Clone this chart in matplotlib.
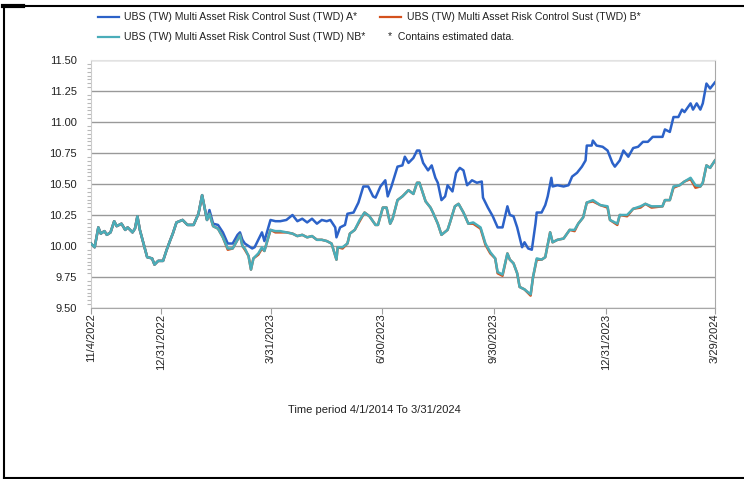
import matplotlib
matplotlib.use('Agg')
import matplotlib.pyplot as plt
from matplotlib.lines import Line2D
from matplotlib.ticker import MultipleLocator, FixedLocator
import pandas as pd

# days counted from 2022-11-04, NAV
start = pd.Timestamp('2022-11-04')

days_a = [0, 3, 6, 8, 11, 13, 16, 19, 21, 25,
          28, 30, 34, 36, 38, 40, 43, 46, 50, 52,
          55, 59, 62, 65, 67, 70, 75, 79, 84, 88,
          91, 93, 95, 97, 100, 104, 108, 112, 116, 120,
          122, 124, 126, 129, 132, 134, 137, 140, 142, 147,
          151, 155, 160, 165, 169, 173, 177, 181, 185, 189,
          193, 196, 200, 201, 204, 208, 210, 215, 219, 223,
          227, 231, 233, 237, 241, 243, 246, 251, 255, 257,
          260, 264, 267, 269, 272, 276, 279, 282, 284, 287,
          290, 292, 296, 299, 302, 305, 308, 312, 316, 320,
          321, 325, 329, 333, 337, 341, 343, 346, 349, 353,
          355, 358, 361, 364, 365, 369, 372, 374, 377, 378,
          382, 387, 391, 394, 398, 402, 405, 406, 410, 411,
          414, 419, 423, 427, 429, 433, 436, 440, 444, 448,
          452, 456, 460, 468, 470, 474, 477, 481, 484, 486,
          491, 493, 496, 499, 501, 504, 507, 511]
nav_a = [10.02, 9.99, 10.15, 10.10, 10.12, 10.09, 10.11, 10.20, 10.16, 10.18,
         10.13, 10.15, 10.11, 10.14, 10.24, 10.13, 10.02, 9.91, 9.90, 9.85,
         9.88, 9.88, 9.97, 10.05, 10.10, 10.19, 10.21, 10.17, 10.17, 10.26,
         10.41, 10.31, 10.21, 10.29, 10.18, 10.17, 10.11, 10.02, 10.02, 10.09,
         10.11, 10.05, 10.02, 10.00, 9.98, 9.99, 10.05, 10.11, 10.04, 10.21,
         10.20, 10.20, 10.21, 10.25, 10.20, 10.22, 10.19, 10.22, 10.18, 10.21,
         10.20, 10.21, 10.15, 10.07, 10.15, 10.17, 10.26, 10.27, 10.35, 10.48,
         10.48, 10.40, 10.39, 10.48, 10.53, 10.40, 10.48, 10.64, 10.65, 10.72,
         10.67, 10.71, 10.77, 10.77, 10.67, 10.61, 10.65, 10.55, 10.51, 10.37,
         10.40, 10.49, 10.44, 10.59, 10.63, 10.61, 10.49, 10.53, 10.51, 10.52,
         10.39, 10.31, 10.24, 10.15, 10.15, 10.32, 10.25, 10.24, 10.15, 9.99,
         10.03, 9.98, 9.97, 10.18, 10.27, 10.27, 10.33, 10.40, 10.55, 10.48,
         10.49, 10.48, 10.49, 10.56, 10.59, 10.64, 10.69, 10.81, 10.81, 10.85,
         10.81, 10.80, 10.77, 10.67, 10.64, 10.69, 10.77, 10.72, 10.79, 10.80,
         10.84, 10.84, 10.88, 10.88, 10.94, 10.92, 11.04, 11.04, 11.10, 11.08,
         11.15, 11.10, 11.15, 11.10, 11.15, 11.31, 11.27, 11.32]

days_nb = [0, 3, 6, 8, 11, 13, 16, 19, 21, 25,
           28, 30, 34, 36, 38, 40, 43, 46, 50, 52,
           55, 59, 62, 65, 67, 70, 75, 79, 84, 88,
           91, 93, 95, 97, 100, 104, 108, 112, 116, 120,
           122, 124, 126, 129, 131, 133, 137, 140, 142, 147,
           151, 155, 160, 165, 169, 173, 177, 181, 185, 189,
           193, 197, 201, 202, 206, 210, 212, 216, 220, 224,
           228, 233, 235, 239, 242, 245, 247, 251, 255, 260,
           264, 267, 269, 274, 278, 280, 284, 287, 292, 294,
           298, 301, 305, 309, 313, 319, 323, 327, 331, 333,
           337, 341, 343, 346, 349, 351, 355, 360, 362, 365,
           369, 372, 376, 378, 382, 387, 392, 396, 399, 403,
           406, 411, 417, 423, 425, 431, 433, 439, 444, 450,
           454, 459, 468, 470, 474, 477, 482, 486, 491, 495,
           499, 501, 504, 507, 511]
nav_nb = [10.02, 9.99, 10.15, 10.10, 10.12, 10.09, 10.11, 10.20, 10.16, 10.18,
          10.13, 10.15, 10.11, 10.14, 10.24, 10.13, 10.02, 9.91, 9.90, 9.85,
          9.88, 9.88, 9.97, 10.05, 10.10, 10.19, 10.21, 10.17, 10.17, 10.26,
          10.41, 10.31, 10.21, 10.26, 10.16, 10.14, 10.07, 9.98, 9.98, 10.05,
          10.09, 10.00, 9.98, 9.92, 9.81, 9.90, 9.94, 9.99, 9.96, 10.13,
          10.12, 10.12, 10.11, 10.10, 10.08, 10.09, 10.07, 10.08, 10.05, 10.05,
          10.04, 10.02, 9.89, 9.99, 9.99, 10.02, 10.10, 10.13, 10.21, 10.27,
          10.24, 10.17, 10.17, 10.31, 10.31, 10.18, 10.22, 10.37, 10.40, 10.45,
          10.42, 10.51, 10.51, 10.36, 10.31, 10.27, 10.18, 10.09, 10.13, 10.19,
          10.32, 10.34, 10.27, 10.18, 10.19, 10.15, 10.02, 9.95, 9.90, 9.79,
          9.77, 9.94, 9.89, 9.86, 9.78, 9.67, 9.65, 9.61, 9.75, 9.90,
          9.89, 9.91, 10.11, 10.03, 10.05, 10.06, 10.13, 10.13, 10.18, 10.23,
          10.35, 10.37, 10.33, 10.32, 10.21, 10.18, 10.25, 10.25, 10.30, 10.32,
          10.34, 10.32, 10.32, 10.37, 10.37, 10.48, 10.49, 10.52, 10.55, 10.49,
          10.48, 10.51, 10.65, 10.63, 10.69]
# B* share class sits almost exactly under NB*, a touch lower in places
nav_b = [10.02, 9.99, 10.15, 10.10, 10.12, 10.09, 10.11, 10.20, 10.16, 10.18,
         10.13, 10.15, 10.11, 10.14, 10.24, 10.13, 10.02, 9.91, 9.90, 9.85,
         9.88, 9.88, 9.97, 10.05, 10.10, 10.19, 10.21, 10.17, 10.17, 10.26,
         10.41, 10.31, 10.21, 10.26, 10.16, 10.14, 10.07, 9.97, 9.98, 10.05,
         10.09, 10.00, 9.97, 9.92, 9.81, 9.90, 9.93, 9.98, 9.96, 10.13,
         10.11, 10.11, 10.11, 10.10, 10.08, 10.09, 10.07, 10.08, 10.05, 10.05,
         10.04, 10.02, 9.89, 9.99, 9.98, 10.02, 10.10, 10.13, 10.20, 10.27,
         10.24, 10.17, 10.17, 10.31, 10.31, 10.18, 10.22, 10.37, 10.40, 10.45,
         10.42, 10.51, 10.51, 10.36, 10.31, 10.27, 10.18, 10.09, 10.13, 10.19,
         10.32, 10.34, 10.27, 10.18, 10.18, 10.14, 10.01, 9.94, 9.90, 9.78,
         9.76, 9.94, 9.89, 9.86, 9.78, 9.67, 9.65, 9.60, 9.75, 9.89,
         9.89, 9.91, 10.11, 10.03, 10.05, 10.06, 10.13, 10.12, 10.18, 10.23,
         10.35, 10.36, 10.33, 10.31, 10.21, 10.17, 10.25, 10.24, 10.30, 10.31,
         10.34, 10.31, 10.32, 10.37, 10.37, 10.47, 10.49, 10.52, 10.54, 10.47,
         10.48, 10.51, 10.65, 10.63, 10.69]

tick_dates = ['2022-11-04', '2022-12-31', '2023-03-31', '2023-06-30',
              '2023-09-30', '2023-12-31', '2024-03-29']
tick_labels = ['11/4/2022', '12/31/2022', '3/31/2023', '6/30/2023',
               '9/30/2023', '12/31/2023', '3/29/2024']

names = ['UBS (TW) Multi Asset Risk Control Sust (TWD) A*',
         'UBS (TW) Multi Asset Risk Control Sust (TWD) B*',
         'UBS (TW) Multi Asset Risk Control Sust (TWD) NB*']
colors = ['#2c62c8', '#d4511d', '#4aadb9']

dates_a = start + pd.to_timedelta(days_a, unit='D')
dates_nb = start + pd.to_timedelta(days_nb, unit='D')

plt.rcParams['font.family'] = ['Liberation Sans', 'DejaVu Sans']

fig = plt.figure(figsize=(7.44, 4.79), dpi=100)
ax = fig.add_axes([91 / 744, 1 - 308 / 479, 624 / 744, 248 / 479])

ax.plot(dates_a, nav_a, color=colors[0], lw=1.8, zorder=3)
ax.plot(dates_nb, nav_b, color=colors[1], lw=1.8, zorder=3)
ax.plot(dates_nb, nav_nb, color=colors[2], lw=1.8, zorder=4)

ax.set_xlim(pd.Timestamp(tick_dates[0]), pd.Timestamp(tick_dates[-1]))
ax.set_ylim(9.5, 11.5)

ax.yaxis.set_major_locator(MultipleLocator(0.25))
ax.yaxis.set_minor_locator(MultipleLocator(0.03125))
ax.yaxis.set_major_formatter(plt.FuncFormatter(lambda v, p: '%.2f' % v))
ax.xaxis.set_major_locator(FixedLocator([matplotlib.dates.date2num(pd.Timestamp(d)) for d in tick_dates]))
ax.set_xticklabels(tick_labels, rotation=90, fontsize=8, color='#222222')

ax.tick_params(axis='y', which='major', length=0, pad=10, labelsize=8, labelcolor='#222222')
ax.tick_params(axis='y', which='minor', length=3, color='#b8b8b8', width=0.8)
ax.tick_params(axis='x', which='major', length=4, color='#a0a0a0', pad=0)

ax.yaxis.grid(True, which='major', color='#999999', lw=1.0)
gl = ax.get_ygridlines()
gl[0].set_visible(False)
gl[-1].set_visible(False)

ax.spines['left'].set_color('#cccccc')
ax.spines['top'].set_color('#e2e2e2')
ax.spines['right'].set_color('#a8a8a8')
ax.spines['bottom'].set_color('#a8a8a8')

fig.text(374 / 744, 1 - 410 / 479, 'Time period 4/1/2014 To 3/31/2024',
         ha='center', va='center', fontsize=8, color='#222222')

# legend, drawn by hand in two rows
leg_size = 7.6
row1 = 1 - 17 / 479
row2 = 1 - 37 / 479
for (x0, y, c) in [(98, row1, colors[0]), (380, row1, colors[1]), (98, row2, colors[2])]:
    fig.add_artist(Line2D([x0 / 744, (x0 + 21) / 744], [y, y], color=c, lw=1.6,
                          transform=fig.transFigure))
fig.text(124 / 744, row1, names[0], va='center', fontsize=leg_size, color='#222222')
fig.text(407 / 744, row1, names[1], va='center', fontsize=leg_size, color='#222222')
fig.text(124 / 744, row2, names[2], va='center', fontsize=leg_size, color='#222222')
fig.text(388 / 744, row2, '*  Contains estimated data.', va='center', fontsize=leg_size,
         color='#222222')

# black frame around the picture
frame = [([3.5, 744], [5.5, 5.5], 1.5), ([3.5, 3.5], [5.5, 478], 1.5),
         ([3.5, 744], [478, 478], 1.5), ([3, 23], [5.5, 5.5], 3.0)]
for (xs, ys, w) in frame:
    fig.add_artist(Line2D([x / 744 for x in xs], [1 - y / 479 for y in ys],
                          color='black', lw=w, transform=fig.transFigure))

fig.savefig('out.png', dpi=100)
